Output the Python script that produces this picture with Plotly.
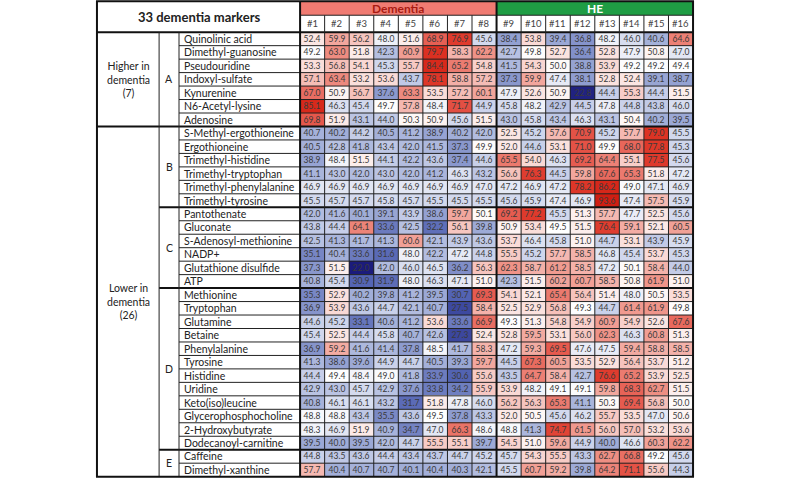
import numpy as np
import plotly.graph_objects as go

# 33 dementia markers: Dementia patients #1-#8, HE patients #9-#16
markers = [
    "Quinolinic acid", "Dimethyl-guanosine", "Pseudouridine", "Indoxyl-sulfate",
    "Kynurenine", "N6-Acetyl-lysine", "Adenosine",
    "S-Methyl-ergothioneine", "Ergothioneine", "Trimethyl-histidine",
    "Trimethyl-tryptophan", "Trimethyl-phenylalanine", "Trimethyl-tyrosine",
    "Pantothenate", "Gluconate", "S-Adenosyl-methionine", "NADP+",
    "Glutathione disulfide", "ATP",
    "Methionine", "Tryptophan", "Glutamine", "Betaine", "Phenylalanine",
    "Tyrosine", "Histidine", "Uridine", "Keto(iso)leucine",
    "Glycerophosphocholine", "2-Hydroxybutyrate", "Dodecanoyl-carnitine",
    "Caffeine", "Dimethyl-xanthine",
]
group_letters = ["A", "B", "C", "D", "E"]
group_sizes = [7, 6, 6, 12, 2]
direction_labels = ["Higher in<br>dementia<br>(7)", "Lower in<br>dementia<br>(26)"]
direction_sizes = [7, 26]
patients = ["#%d" % i for i in range(1, 17)]

dementia_vals = [
    [52.4, 59.9, 56.2, 48.0, 51.6, 68.9, 76.9, 45.6],
    [49.2, 63.0, 51.8, 42.3, 60.9, 79.7, 58.3, 62.2],
    [53.3, 56.8, 54.1, 45.3, 55.7, 84.4, 65.2, 54.8],
    [57.1, 63.4, 53.2, 53.6, 43.7, 78.1, 58.8, 57.2],
    [67.0, 50.9, 56.7, 37.6, 63.3, 53.5, 57.2, 60.1],
    [85.1, 46.3, 45.4, 49.7, 57.8, 48.4, 71.7, 44.9],
    [69.8, 51.9, 43.1, 44.0, 50.3, 50.9, 45.6, 51.5],
    [40.7, 40.2, 44.2, 40.5, 41.2, 38.9, 40.2, 42.0],
    [40.5, 42.8, 41.8, 43.4, 42.0, 41.5, 37.3, 49.9],
    [38.9, 48.4, 51.5, 44.1, 42.2, 43.6, 37.4, 44.6],
    [41.1, 43.0, 42.0, 43.0, 42.0, 41.2, 46.3, 43.2],
    [46.9, 46.9, 46.9, 46.9, 46.9, 46.9, 46.9, 47.0],
    [45.5, 45.7, 45.7, 45.8, 45.7, 45.5, 45.5, 45.5],
    [42.0, 41.6, 40.1, 39.1, 43.9, 38.6, 59.7, 50.1],
    [43.8, 44.4, 64.1, 33.6, 42.5, 32.2, 56.1, 39.8],
    [42.5, 41.3, 41.7, 41.3, 60.6, 42.1, 43.9, 43.6],
    [35.1, 40.4, 33.6, 31.6, 48.0, 42.2, 47.2, 44.8],
    [37.3, 51.5, 22.0, 42.0, 46.0, 46.5, 36.2, 56.3],
    [40.8, 45.4, 30.9, 31.9, 48.0, 46.3, 47.1, 51.0],
    [35.3, 52.9, 40.2, 39.8, 41.2, 39.5, 30.7, 69.3],
    [36.9, 53.9, 43.6, 44.7, 42.1, 40.7, 27.5, 58.4],
    [44.6, 45.2, 33.1, 40.6, 41.2, 53.6, 33.6, 66.9],
    [45.4, 52.5, 44.4, 45.8, 40.7, 42.6, 27.3, 52.4],
    [36.9, 59.2, 41.6, 41.4, 37.8, 48.5, 41.7, 58.3],
    [41.3, 38.6, 39.6, 44.9, 44.7, 40.5, 39.3, 59.7],
    [44.4, 49.4, 48.4, 49.0, 41.8, 33.9, 30.6, 55.6],
    [42.9, 43.0, 45.7, 42.9, 37.6, 33.8, 34.2, 55.9],
    [40.8, 46.1, 46.1, 43.2, 31.7, 51.8, 47.8, 46.0],
    [48.8, 48.8, 43.4, 35.5, 43.6, 49.5, 37.8, 43.3],
    [48.3, 46.9, 51.9, 40.9, 34.7, 47.0, 66.3, 48.6],
    [39.5, 40.0, 39.5, 42.0, 44.7, 55.5, 55.1, 39.7],
    [44.8, 43.5, 43.6, 44.4, 43.4, 43.7, 44.7, 45.2],
    [57.7, 40.4, 40.7, 40.7, 40.1, 40.4, 40.3, 42.1],
]
he_vals = [
    [38.4, 53.8, 39.4, 36.8, 48.2, 46.0, 40.6, 64.6],
    [42.7, 49.8, 52.7, 36.4, 52.8, 47.9, 50.8, 47.0],
    [41.5, 54.3, 50.0, 38.8, 53.9, 49.2, 49.2, 49.4],
    [37.3, 59.9, 47.4, 38.1, 52.8, 52.4, 39.1, 38.7],
    [47.9, 52.6, 50.9, 22.8, 44.4, 55.3, 44.4, 51.5],
    [45.8, 48.2, 42.9, 44.5, 47.8, 44.8, 43.8, 46.0],
    [43.0, 45.8, 43.4, 46.3, 43.1, 50.4, 40.2, 39.5],
    [52.5, 45.2, 57.6, 70.9, 45.2, 57.7, 79.0, 45.5],
    [52.0, 44.6, 53.1, 71.0, 49.9, 68.0, 77.8, 45.3],
    [65.5, 54.0, 46.3, 69.2, 64.4, 55.1, 77.5, 45.6],
    [56.6, 76.3, 44.5, 59.8, 67.6, 65.3, 51.8, 47.2],
    [47.2, 46.9, 47.2, 78.2, 86.2, 49.0, 47.1, 46.9],
    [45.6, 45.9, 47.4, 46.9, 93.6, 47.4, 57.5, 45.9],
    [69.2, 77.2, 45.5, 51.3, 57.7, 47.7, 52.5, 45.6],
    [50.9, 53.4, 49.5, 51.5, 76.4, 59.1, 52.1, 60.5],
    [53.7, 46.4, 45.8, 51.0, 44.7, 53.1, 43.9, 45.9],
    [55.5, 45.2, 57.7, 58.5, 46.8, 45.4, 53.7, 45.3],
    [62.3, 58.7, 61.2, 58.5, 47.2, 50.1, 58.4, 44.0],
    [42.3, 51.5, 60.2, 60.7, 58.5, 50.8, 61.9, 51.0],
    [54.1, 52.1, 65.4, 56.4, 51.4, 48.0, 50.5, 53.5],
    [52.5, 52.9, 56.8, 49.3, 44.7, 61.4, 61.9, 49.8],
    [49.3, 51.3, 54.8, 54.9, 60.9, 54.9, 52.6, 67.6],
    [52.8, 59.5, 53.1, 56.0, 62.3, 46.3, 60.8, 51.3],
    [47.2, 59.3, 69.5, 47.6, 47.5, 59.4, 58.8, 58.5],
    [44.5, 67.3, 60.5, 53.5, 52.9, 56.4, 53.7, 51.2],
    [43.5, 64.7, 58.4, 42.7, 76.6, 65.2, 53.9, 52.5],
    [53.9, 48.2, 49.1, 49.1, 59.8, 68.3, 62.7, 51.5],
    [56.2, 56.3, 65.3, 41.1, 50.3, 69.4, 56.8, 50.0],
    [52.0, 50.5, 45.6, 46.2, 55.7, 53.5, 47.0, 50.6],
    [48.8, 41.3, 74.7, 61.5, 56.0, 57.0, 53.2, 53.6],
    [54.5, 51.0, 59.6, 44.9, 40.0, 46.6, 60.3, 62.2],
    [45.7, 54.3, 55.5, 43.3, 62.7, 66.8, 49.2, 45.6],
    [45.5, 60.7, 59.2, 39.8, 64.2, 71.1, 55.6, 44.3],
]

z = np.hstack([np.array(dementia_vals), np.array(he_vals)])
n_rows = len(markers)
cols = list(range(1, 17))
rows = list(range(1, n_rows + 1))

zmin, zmax = float(z.min()), float(z.max())
def pos(v):
    return (v - zmin) / (zmax - zmin)
colorscale = [
    [0.0, "#1b1b7c"],
    [pos(30), "#4d5eb0"],
    [pos(40), "#9facd7"],
    [pos(45), "#ccd3eb"],
    [pos(49.5), "#ffffff"],
    [pos(55), "#f8cfca"],
    [pos(62), "#ef9489"],
    [pos(70), "#e5564a"],
    [pos(80), "#dc2f20"],
    [1.0, "#cf1e12"],
]

# column / row edges in axis units
X_GROUP = -7.77
X_LETTER = -5.24
X_NAME = -4.43
X_RIGHT = 16.5
Y_TOP = -1.79
Y_MID = -0.76
Y_HEAD = 0.5
Y_BOT = n_rows + 0.5

font = "Lato, 'Open Sans', sans-serif"

fig = go.Figure()
fig.add_trace(go.Heatmap(
    z=z, x=cols, y=rows,
    colorscale=colorscale, zmin=zmin, zmax=zmax, showscale=False,
    texttemplate="%{z:.1f}", textfont=dict(size=8.5, color="#3a3a3a", family=font),
    hovertemplate="%{y}<br>%{x}: %{z}<extra></extra>",
))

shapes = []
def line(x0, y0, x1, y1, w=1, c="#222"):
    shapes.append(dict(type="line", x0=x0, y0=y0, x1=x1, y1=y1,
                       line=dict(color=c, width=w), layer="above"))

# header bars
shapes.append(dict(type="rect", x0=0.5, x1=8.5, y0=Y_TOP, y1=Y_MID,
                   fillcolor="#f07b72", line=dict(width=0), layer="below"))
shapes.append(dict(type="rect", x0=8.5, x1=16.5, y0=Y_TOP, y1=Y_MID,
                   fillcolor="#1f9d44", line=dict(width=0), layer="below"))

# horizontal lines
group_ends = list(np.cumsum(group_sizes))
for k in range(1, n_rows):
    yb = k + 0.5
    if k in group_ends:
        x0 = X_GROUP if k == direction_sizes[0] else X_LETTER
        line(x0, yb, X_RIGHT, yb, w=2, c="#111")
    else:
        line(X_NAME, yb, X_RIGHT, yb, w=1)
line(X_GROUP, Y_HEAD, X_RIGHT, Y_HEAD, w=2, c="#111")
line(0.5, Y_MID, X_RIGHT, Y_MID, w=1)

# vertical lines
for c in range(1, 16):
    xb = c + 0.5
    if c == 8:
        line(xb, Y_TOP, xb, Y_BOT, w=2, c="#111")
    else:
        line(xb, Y_MID, xb, Y_BOT, w=1)
line(0.5, Y_TOP, 0.5, Y_BOT, w=2, c="#111")
line(X_NAME, Y_HEAD, X_NAME, Y_BOT, w=1)
line(X_LETTER, Y_HEAD, X_LETTER, Y_BOT, w=1)
shapes.append(dict(type="rect", x0=X_GROUP, x1=X_RIGHT, y0=Y_TOP, y1=Y_BOT,
                   line=dict(color="#111", width=2), layer="above"))

annotations = []
def txt(x, y, s, size=11, color="#222", xanchor="center", bold=False):
    if bold:
        s = "<b>%s</b>" % s
    annotations.append(dict(x=x, y=y, text=s, showarrow=False, xanchor=xanchor,
                            yanchor="middle", font=dict(size=size, color=color, family=font)))

txt((X_GROUP + 0.5) / 2, (Y_TOP + Y_HEAD) / 2, "33 dementia markers", size=13, bold=True)
txt(4.5, (Y_TOP + Y_MID) / 2, "Dementia", size=12, color="#a81b12", bold=True)
txt(12.5, (Y_TOP + Y_MID) / 2, "HE", size=12, color="#ffffff", bold=True)
for c, p in zip(cols, patients):
    txt(c, (Y_MID + Y_HEAD) / 2, p, size=9.5, color="#444")

for r, name in zip(rows, markers):
    txt(X_NAME + 0.12, r, name, size=10.5, xanchor="left")

start = 0
for g, n in zip(group_letters, group_sizes):
    txt((X_LETTER + X_NAME) / 2, start + (n + 1) / 2, g, size=10.5)
    start += n

start = 0
for lab, n in zip(direction_labels, direction_sizes):
    txt((X_GROUP + X_LETTER) / 2, start + (n + 1) / 2, lab, size=10.5)
    start += n

fig.update_layout(
    width=800, height=480,
    margin=dict(l=95, r=105, t=0, b=2),
    paper_bgcolor="white", plot_bgcolor="white",
    xaxis=dict(range=[X_GROUP - 0.08, X_RIGHT + 0.08], visible=False, fixedrange=True),
    yaxis=dict(range=[Y_BOT + 0.1, Y_TOP - 0.1], visible=False, fixedrange=True),
    shapes=shapes, annotations=annotations,
    font=dict(family=font),
)

fig.write_html("out.html", config={"displayModeBar": False},
               post_script="document.body.style.margin='0';")
